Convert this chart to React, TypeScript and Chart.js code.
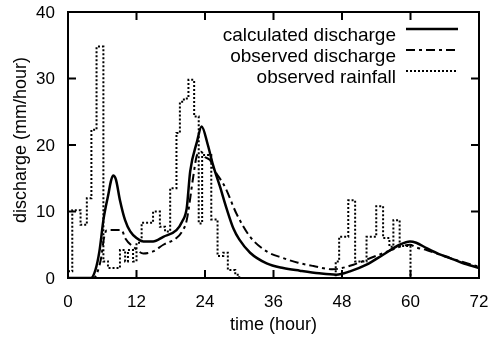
import React, { useEffect, useRef } from "react";
import { Chart, registerables } from "chart.js";

Chart.register(...registerables);

const calcT = [0, 4.0, 4.8, 5.5, 6.2, 6.5, 7.1, 7.5, 7.9, 8.4, 9.1, 10, 10.9, 12, 13.2, 14.9, 16.7, 19, 20, 20.8, 21.4, 22.6, 23.4, 24.5, 25.4, 26.6, 27.8, 29, 30, 31.9, 34.8, 37.7, 40.6, 44, 47, 49.4, 52.3, 55.2, 58.1, 59.9, 61, 62.8, 65, 66.9, 69, 72];
const calcV = [0, 0, 1.2, 4, 8.7, 10.2, 12.7, 14.5, 15.4, 14.8, 11.7, 8.7, 7.0, 6.0, 5.5, 5.5, 6.2, 7.2, 8.5, 10.5, 16, 20.5, 22.8, 20, 17, 13.8, 10.4, 7.4, 5.8, 3.8, 2.2, 1.5, 1.1, 0.7, 0.5, 1, 2, 3.5, 5, 5.5, 5.3, 4.5, 3.6, 3, 2.3, 1.5];

const obsT = [0, 4.5, 5.2, 5.8, 6.3, 6.8, 9.4, 10, 11.7, 13.2, 14.9, 16.7, 19, 20, 20.8, 21.9, 22.5, 22.8, 23.3, 24, 24.9, 25.5, 27.5, 29.5, 31.9, 34.8, 37.7, 40.3, 43, 46.4, 48, 50, 53, 56, 58.5, 59.9, 61, 62.8, 66.9, 72];
const obsV = [0, 0, 1, 3, 6, 7.2, 7.2, 6, 4.5, 3.7, 4.0, 5.0, 6, 7, 8.7, 15, 18.2, 18.7, 19, 18.2, 17.7, 16.5, 13.7, 9.7, 6.2, 4, 3, 2.3, 1.8, 1.3, 1.5, 2.0, 3.0, 4.0, 4.8, 5.0, 4.6, 4.2, 3, 1.7];

const rainT = [0, 0.75, 2.2, 3.3, 4.1, 5.0, 6.2, 7.0, 9.1, 10.0, 10.5, 11.4, 12.0, 12.9, 14.9, 16.1, 17.0, 17.9, 19.0, 19.6, 20.3, 21.1, 22.1, 22.9, 23.5, 25.1, 26.2, 27.2, 28.0, 29.3, 30.0, 46.9, 47.5, 49.1, 50.3, 52.3, 54.0, 55.2, 56.3, 57.0, 58.1, 60.0, 72];
const rainV = [1, 10.2, 8, 12, 22.3, 34.8, 2.5, 1.5, 4.2, 2.5, 4.2, 2.5, 5.3, 8.3, 10, 7.7, 7.0, 13.5, 21.8, 26.5, 27, 29.8, 24.3, 8.2, 18.5, 8.8, 3.3, 3.8, 1.2, 0.5, 0, 2.5, 6.2, 11.7, 2.5, 6.2, 10.8, 6.0, 4.7, 8.7, 4.8, 0, 0];

const xTicks = [0, 12, 24, 36, 48, 60, 72];
const yTicks = [0, 10, 20, 30, 40];
const legendLabels = ["calculated discharge", "observed discharge", "observed rainfall"];
const xTitle = "time (hour)";
const yTitle = "discharge (mm/hour)";

const FONT = "'Liberation Sans', Arial, Helvetica, sans-serif";

const pts = (t: number[], v: number[]) => t.map((x, i) => ({ x, y: v[i] }));

const styles = [
  { dash: [] as number[], w: 2.5 },
  { dash: [9, 4, 3, 4], w: 2 },
  { dash: [2, 2], w: 2 },
];

const framePlugin = {
  id: "frame",
  afterDatasetsDraw(chart: any) {
    const { ctx, chartArea: a, scales } = chart;
    ctx.save();
    ctx.strokeStyle = "#000";
    ctx.fillStyle = "#000";
    ctx.lineWidth = 2;
    ctx.strokeRect(a.left, a.top, a.right - a.left, a.bottom - a.top);
    const tl = 8;
    ctx.beginPath();
    xTicks.forEach((t) => {
      const x = scales.x.getPixelForValue(t);
      ctx.moveTo(x, a.bottom);
      ctx.lineTo(x, a.bottom - tl);
      ctx.moveTo(x, a.top);
      ctx.lineTo(x, a.top + tl);
    });
    yTicks.forEach((v) => {
      const y = scales.y.getPixelForValue(v);
      ctx.moveTo(a.left, y);
      ctx.lineTo(a.left + tl, y);
      ctx.moveTo(a.right, y);
      ctx.lineTo(a.right - tl, y);
    });
    ctx.stroke();

    // tick labels
    ctx.font = `17px ${FONT}`;
    ctx.textBaseline = "middle";
    ctx.textAlign = "center";
    xTicks.forEach((t) => {
      ctx.fillText(String(t), scales.x.getPixelForValue(t), a.bottom + 24);
    });
    ctx.textAlign = "right";
    yTicks.forEach((v) => {
      ctx.fillText(String(v), a.left - 13, scales.y.getPixelForValue(v) + 1);
    });

    // axis titles
    ctx.font = `18px ${FONT}`;
    ctx.textAlign = "center";
    ctx.fillText(xTitle, (a.left + a.right) / 2, 325);
    ctx.save();
    ctx.translate(21, 140);
    ctx.rotate(-Math.PI / 2);
    ctx.fillText(yTitle, 0, 0);
    ctx.restore();

    // legend
    ctx.font = `19px ${FONT}`;
    ctx.textAlign = "right";
    ctx.textBaseline = "alphabetic";
    legendLabels.forEach((lab, i) => {
      const base = 41 + i * 21;
      ctx.fillText(lab, 396, base);
      ctx.beginPath();
      ctx.setLineDash(styles[i].dash);
      ctx.lineWidth = styles[i].w;
      ctx.moveTo(406, base - 12);
      ctx.lineTo(458, base - 12);
      ctx.stroke();
    });
    ctx.setLineDash([]);
    ctx.restore();
  },
};

export default function App() {
  const ref = useRef<HTMLCanvasElement>(null);
  useEffect(() => {
    document.body.style.margin = "0";
    const chart = new Chart(ref.current!, {
      type: "line",
      data: {
        datasets: [
          {
            label: legendLabels[0],
            data: pts(calcT, calcV),
            borderColor: "#000",
            borderWidth: styles[0].w,
            pointRadius: 0,
            cubicInterpolationMode: "monotone",
          },
          {
            label: legendLabels[1],
            data: pts(obsT, obsV),
            borderColor: "#000",
            borderWidth: styles[1].w,
            borderDash: styles[1].dash,
            pointRadius: 0,
            cubicInterpolationMode: "monotone",
          },
          {
            label: legendLabels[2],
            data: pts(rainT, rainV),
            borderColor: "#000",
            borderWidth: styles[2].w,
            borderDash: styles[2].dash,
            pointRadius: 0,
            stepped: "before",
          },
        ],
      },
      options: {
        animation: false,
        responsive: false,
        maintainAspectRatio: false,
        layout: { padding: { left: 68, right: 12, top: 12, bottom: 62 } },
        plugins: { legend: { display: false }, tooltip: { enabled: false } },
        scales: {
          x: { type: "linear", min: 0, max: 72, display: false },
          y: { type: "linear", min: 0, max: 40, display: false },
        },
      },
      plugins: [framePlugin],
    } as any);
    return () => chart.destroy();
  }, []);
  return (
    <div style={{ position: "absolute", left: 0, top: 0, width: 491, height: 340 }}>
      <canvas ref={ref} width={491} height={340} style={{ width: 491, height: 340 }} />
    </div>
  );
}
